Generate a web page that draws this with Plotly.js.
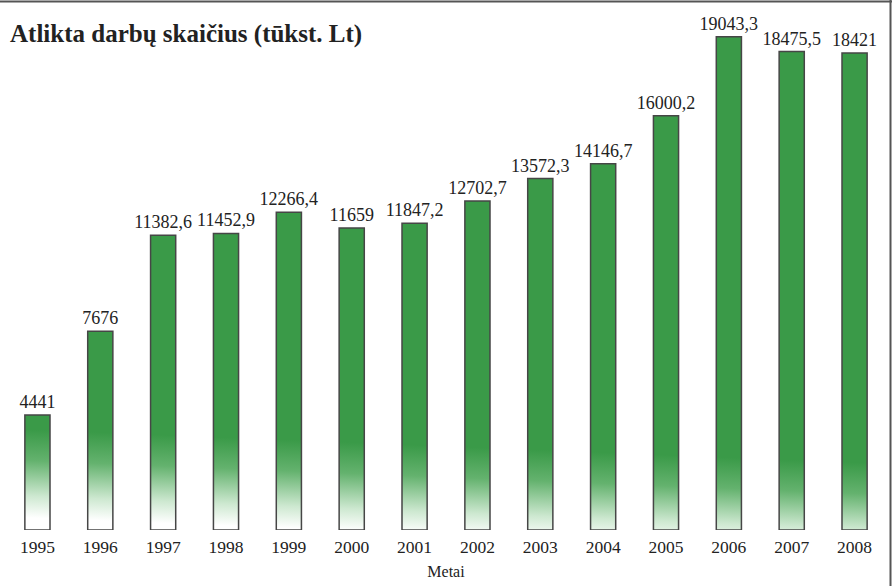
<!DOCTYPE html>
<html>
<head>
<meta charset="utf-8">
<script src="https://cdn.plot.ly/plotly-3.0.1.min.js"></script>
<style>
html,body{margin:0;padding:0;background:#fff;}
#chart{width:892px;height:586px;}
</style>
</head>
<body>
<div id="chart"></div>
<script>
// Data
const years = ["1995","1996","1997","1998","1999","2000","2001","2002","2003","2004","2005","2006","2007","2008"];
const values = [4441, 7676, 11382.6, 11452.9, 12266.4, 11659, 11847.2, 12702.7, 13572.3, 14146.7, 16000.2, 19043.3, 18475.5, 18421];
const valueLabels = values.map(v => String(v).replace('.', ','));

const W = 892, H = 586;
const M = {l: 6, r: 6, t: 25, b: 56};
const pw = W - M.l - M.r, ph = H - M.t - M.b;
const serif = "Liberation Serif, Times New Roman, serif";

const trace = {
  type: 'bar',
  x: years,
  y: values,
  text: valueLabels,
  textposition: 'outside',
  constraintext: 'none',
  cliponaxis: false,
  textfont: {family: serif, size: 18, color: '#222'},
  marker: {color: 'rgb(58,154,72)', line: {color: 'rgb(70,70,70)', width: 1.5}},
  hoverinfo: 'none'
};

const layout = {
  width: W, height: H,
  margin: M,
  paper_bgcolor: '#fff', plot_bgcolor: '#fff',
  showlegend: false,
  bargap: 0.6,
  title: {
    text: '<b>Atlikta darbų skaičius (tūkst. Lt)</b>',
    xref: 'container', yref: 'container',
    x: 10 / W, xanchor: 'left',
    y: 1 - 33 / H, yanchor: 'middle',
    font: {family: serif, size: 25, color: '#222'}
  },
  xaxis: {
    type: 'category',
    range: [-0.5, years.length - 0.5],
    showgrid: false, zeroline: false, showline: false,
    ticks: '',
    ticklabelstandoff: 4,
    tickfont: {family: serif, size: 17.5, color: '#222'},
    title: {text: 'Metai', font: {family: serif, size: 16, color: '#222'}, standoff: 10}
  },
  yaxis: {
    range: [0, 19500],
    visible: false,
    showgrid: false, zeroline: false
  },
  shapes: [
    {type: 'line', xref: 'paper', yref: 'paper',
     x0: -M.l / pw, x1: (W - M.l) / pw,
     y0: (ph + M.t - 1.5) / ph, y1: (ph + M.t - 1.5) / ph,
     line: {color: '#555', width: 2}},
    {type: 'line', xref: 'paper', yref: 'paper',
     x0: (890.5 - M.l) / pw, x1: (890.5 - M.l) / pw,
     y0: -M.b / ph, y1: (ph + M.t) / ph,
     line: {color: '#555', width: 2}}
  ]
};

const gd = document.getElementById('chart');
Plotly.newPlot(gd, [trace], layout, {staticPlot: true, displayModeBar: false}).then(() => {
  const svgNS = 'http://www.w3.org/2000/svg';
  const svg = gd.querySelector('svg.main-svg');
  let defs = svg.querySelector('defs');
  if (!defs) { defs = document.createElementNS(svgNS, 'defs'); svg.insertBefore(defs, svg.firstChild); }
  const g = document.createElementNS(svgNS, 'linearGradient');
  g.setAttribute('id', 'barFade');
  g.setAttribute('gradientUnits', 'userSpaceOnUse');
  // slanted fade in plot-area pixels
  g.setAttribute('x1', 31); g.setAttribute('y1', ph - 100);
  g.setAttribute('x2', 27.5); g.setAttribute('y2', ph - 12);
  [[0, 'rgb(58,154,72)'], [0.35, 'rgb(100,178,110)'], [0.75, 'rgb(205,232,208)'], [1, 'rgb(255,255,255)']].forEach(([o, c]) => {
    const s = document.createElementNS(svgNS, 'stop');
    s.setAttribute('offset', o);
    s.setAttribute('stop-color', c);
    g.appendChild(s);
  });
  defs.appendChild(g);
  gd.querySelectorAll('.bars .point path').forEach(p => { p.style.fill = 'url(#barFade)'; });
});
</script>
</body>
</html>
